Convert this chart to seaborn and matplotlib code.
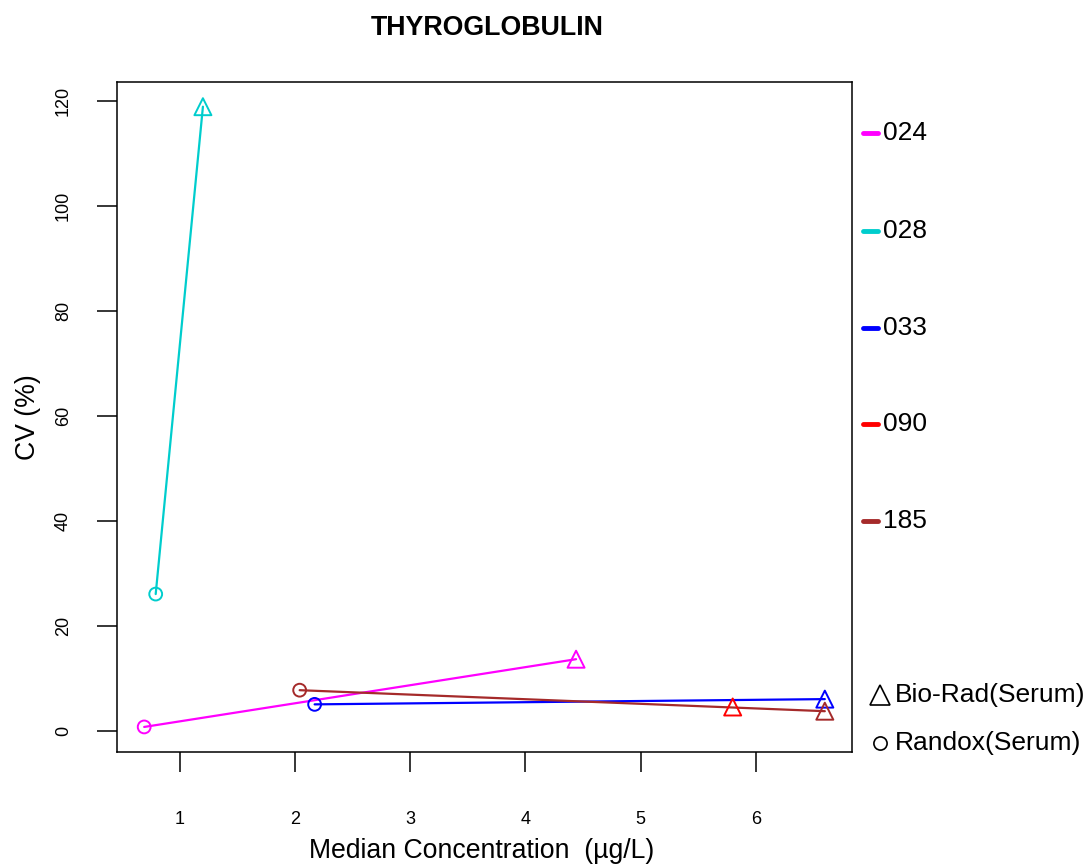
import numpy as np
import pandas as pd
import matplotlib
matplotlib.use("Agg")
import matplotlib.pyplot as plt
from matplotlib.lines import Line2D
import seaborn as sns

# ---- data ----
lab_ids = ["024", "028", "033", "090", "185"]
lab_colors = ["#FF00FF", "#00CDCD", "#0000FF", "#FF0000", "#A52A2A"]
randox_conc = [0.69, 0.79, 2.17, np.nan, 2.04]
randox_cv = [0.8, 26.1, 5.1, np.nan, 7.8]
biorad_conc = [4.44, 1.20, 6.60, 5.80, 6.60]
biorad_cv = [13.7, 118.9, 6.1, 4.6, 3.8]
materials = ["Bio-Rad(Serum)", "Randox(Serum)"]
x_ticks = [1, 2, 3, 4, 5, 6]
y_ticks = [0, 20, 40, 60, 80, 100, 120]
title = "THYROGLOBULIN"
x_label = "Median Concentration  (\u00b5g/L)"
y_label = "CV (%)"

rows = []
for i, lab in enumerate(lab_ids):
    if not np.isnan(randox_conc[i]):
        rows.append({"Lab": lab, "Material": "Randox", "conc": randox_conc[i], "cv": randox_cv[i]})
    rows.append({"Lab": lab, "Material": "Bio-Rad", "conc": biorad_conc[i], "cv": biorad_cv[i]})
df = pd.DataFrame(rows)
palette = dict(zip(lab_ids, lab_colors))

sns.set_style("white")
plt.rcParams["font.family"] = ["Liberation Sans", "DejaVu Sans"]
plt.rcParams["text.color"] = "black"
plt.rcParams["xtick.color"] = "black"
plt.rcParams["ytick.color"] = "black"
plt.rcParams["axes.labelcolor"] = "black"

fig = plt.figure(figsize=(10.91, 8.66), dpi=100)
W, H = 1091, 866
ax = fig.add_axes([117 / W, (H - 752) / H, (852 - 117) / W, (752 - 82) / H])

sns.lineplot(data=df, x="conc", y="cv", hue="Lab", palette=palette, estimator=None,
             sort=True, legend=False, linewidth=1.6, ax=ax)
sns.scatterplot(data=df, x="conc", y="cv", hue="Lab", palette=palette,
                style="Material", markers={"Bio-Rad": "^", "Randox": "o"},
                size="Material", sizes={"Bio-Rad": 150, "Randox": 85},
                legend=False, ax=ax, zorder=3)
for coll in ax.collections:
    fc = coll.get_facecolors()
    coll.set_edgecolors(fc)
    coll.set_facecolors("none")
    coll.set_linewidths(1.4)

ax.set_xlim(0.454, 6.836)
ax.set_ylim(-3.97, 123.6)
ax.set_xticks(x_ticks)
ax.set_yticks(y_ticks)
ax.set_xticklabels([str(t) for t in x_ticks])
ax.set_yticklabels([str(t) for t in y_ticks], rotation=90, va="center")
ax.tick_params(axis="x", length=14.5, width=1.1, pad=28, labelsize=13, direction="out", bottom=True, colors="black")
ax.tick_params(axis="y", length=14.5, width=1.1, pad=18, labelsize=13, direction="out", left=True, colors="black")
for sp in ax.spines.values():
    sp.set_color("black")
    sp.set_linewidth(1.1)

ax.set_xlabel("")
ax.set_ylabel("")
fig.text(482 / W, 1 - 851 / H, x_label, ha="center", va="center", fontsize=19.2, color="black")
fig.text(28 / W, 1 - 417 / H, y_label, ha="center", va="center", rotation=90, fontsize=19.2, color="black")
fig.text(487 / W, 1 - 28 / H, title, ha="center", va="center", fontsize=19.3, fontweight="bold", color="black")

# legend for labs (right side)
leg_y = [133, 231, 328, 424, 521]
for lab, col, yy in zip(lab_ids, lab_colors, leg_y):
    fig.add_artist(Line2D([863 / W, 878 / W], [1 - yy / H, 1 - yy / H], color=col,
                          linewidth=3.5, solid_capstyle="round", transform=fig.transFigure))
    fig.text(883 / W, 1 - yy / H, lab, ha="left", va="center", fontsize=19, color="black")

# legend for materials
mat_y = [695, 743]
mat_markers = ["^", "o"]
mat_sizes = [14, 9.5]
for name, mk, ms, yy in zip(materials, mat_markers, mat_sizes, mat_y):
    fig.add_artist(Line2D([880 / W], [1 - yy / H], marker=mk, markersize=ms, markerfacecolor="none",
                          markeredgecolor="black", markeredgewidth=1.2, linestyle="none",
                          transform=fig.transFigure))
    fig.text(895 / W, 1 - yy / H, name, ha="left", va="center", fontsize=19, color="black")

fig.savefig("out.png", dpi=100)
